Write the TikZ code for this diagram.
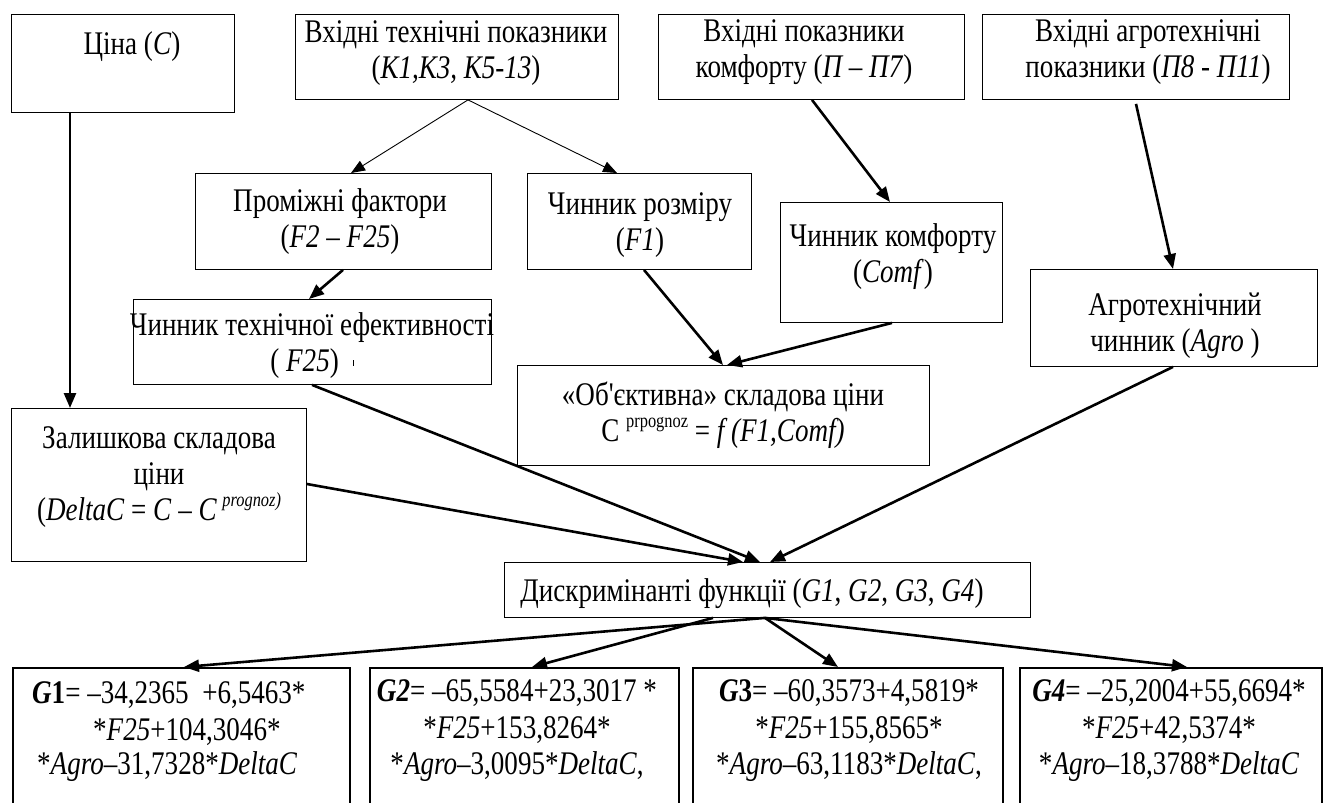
\documentclass[tikz,border=0pt]{standalone}
\usepackage{fontspec}
\setmainfont[FakeStretch=0.82]{Liberation Serif}
\newfontfamily\plainserif[FakeStretch=0.82]{Liberation Serif}
\usetikzlibrary{arrows.meta,calc}
\tikzset{
  box/.style={draw, line width=0.9pt, anchor=north west, inner sep=0pt},
  gbox/.style={draw, line width=2pt, anchor=north west, inner sep=0pt},
  txt/.style={align=center, inner sep=0pt, font=\fontsize{33}{36}\selectfont},
  gtxt/.style={align=center, inner sep=0pt, font=\fontsize{33}{36.5}\selectfont},
  arr/.style={line width=2.6pt, -{Triangle[length=15pt,width=12pt]}},
  thinarr/.style={line width=0.9pt, -{Triangle[length=14pt,width=11pt]}},
}
\newcommand{\supup}[1]{\raisebox{0.42em}{\fontsize{20}{20}\selectfont #1}}
\begin{document}
\begin{tikzpicture}[x=1pt,y=-1pt]
\fill[white] (0,0) rectangle (1323,803);
\clip (0,0) rectangle (1323,803);
% boxes
\node[box, minimum width=223pt, minimum height=98pt] (price) at (11,14) {};
\node[box, minimum width=323pt, minimum height=85pt] (techin) at (295,14) {};
\node[box, minimum width=306pt, minimum height=85pt] (comfin) at (658,14) {};
\node[box, minimum width=307pt, minimum height=85pt] (agroin) at (982,14) {};
\node[box, minimum width=296pt, minimum height=96pt] (inter) at (195,173) {};
\node[box, minimum width=224pt, minimum height=96pt] (size) at (527,173) {};
\node[box, minimum width=222pt, minimum height=120pt] (comf) at (780,202) {};
\node[box, minimum width=358pt, minimum height=85pt] (techeff) at (133,299) {};
\node[box, minimum width=412pt, minimum height=100pt] (obj) at (517,365) {};
\node[box, minimum width=295pt, minimum height=153pt] (resid) at (11,408) {};
\node[box, minimum width=287pt, minimum height=97pt] (agro) at (1030,269) {};
\node[box, minimum width=526pt, minimum height=55pt] (disc) at (504,562) {};
\node[gbox, minimum width=337pt, minimum height=170pt] (g1) at (12,667) {};
\node[gbox, minimum width=309pt, minimum height=170pt] (g2) at (369,667) {};
\node[gbox, minimum width=310pt, minimum height=170pt] (g3) at (692,667) {};
\node[gbox, minimum width=302pt, minimum height=170pt] (g4) at (1019,667) {};
% texts
\node[txt] (priceT) at (132,47) {Ціна (\textit{C})};
\node[txt] (techinT) at (456,53) {Вхідні технічні показники\\(\textit{К1,К3, К5-13})};
\node[txt] (comfinT) at (804,52) {Вхідні показники\\комфорту (\textit{П – П7})};
\node[txt] (agroinT) at (1148,52) {Вхідні агротехнічні\\показники (\textit{П8 - П11})};
\node[txt] (interT) at (340,222) {Проміжні фактори\\(\textit{F2 – F25})};
\node[txt] (sizeT) at (640,225) {Чинник розміру\\(\textit{F1})};
\node[txt] (comfT) at (893,257) {Чинник комфорту\\(\textit{Comf})};
\node[txt] (techeffT) at (312,346) {Чинник технічної ефективності\\( \textit{F25})\hspace{14pt}\rule[6pt]{0.8pt}{6pt}\hspace{-16pt}};
\node[txt] (objT) at (723,415) {«Об{\plainserif '}єктивна» складова ціни\\C \supup{prpognoz} = \textit{f (F1,Comf)}};
\node[txt] (residT) at (159,477) {Залишкова складова\\ціни\\(\textit{DeltaC} = \textit{C} – \textit{C}\,\supup{\itshape prognoz)}};
\node[txt] (agroT) at (1175,326) {Агротехнічний\\чинник (\textit{Agro} )};
\node[txt] (discT) at (752,594) {Дискримінанті функції (\textit{G1}, \textit{G2}, \textit{G3}, \textit{G4})};
\node[txt, anchor=west] (g1a) at (32,695) {\textbf{\textit{G}1}= –34,2365\ \ +6,5463*};
\node[txt, anchor=west] (g1b) at (93,732) {*\textit{F25}+104,3046*};
\node[txt, anchor=west] (g1c) at (37,767) {*\textit{Agro}–31,7328*\textit{DeltaC}};
\node[gtxt] (g2T) at (517,731) {\textbf{\textit{G2}}= –65,5584+23,3017 *\\*\textit{F25}+153,8264*\\*\textit{Agro}–3,0095*\textit{DeltaC},};
\node[gtxt] (g3T) at (849,731) {\textbf{\textit{G}3}= –60,3573+4,5819*\\*\textit{F25}+155,8565*\\*\textit{Agro}–63,1183*\textit{DeltaC},};
\node[gtxt] (g4T) at (1169,731) {\textbf{\textit{G4}}= –25,2004+55,6694*\\*\textit{F25}+42,5374*\\*\textit{Agro}–18,3788*\textit{DeltaC}};
% connectors
\draw[arr] ($(price.south west)+(59,0)$) -- ($(resid.north west)+(59,0)$);
\draw[thinarr] ($(techin.south west)+(173,0)$) -- ($(inter.north west)+(156,0)$);
\draw[thinarr] ($(techin.south west)+(173,0)$) -- ($(size.north west)+(90,0)$);
\draw[arr] ($(comfin.south west)+(154,0)$) -- ($(comf.north west)+(110,0)$);
\draw[arr] ($(agroin.south west)+(154,4)$) -- ($(agro.north west)+(143,0)$);
\draw[arr] ($(inter.south west)+(148,0)$) -- ($(techeff.north west)+(176,0)$);
\draw[arr] ($(size.south west)+(117,0)$) -- ($(obj.north west)+(206,0)$);
\draw[arr] ($(comf.south west)+(112,0)$) -- ($(obj.north west)+(210,0)$);
\draw[arr] ($(techeff.south west)+(179,0)$) -- ($(disc.north west)+(256,0)$);
\draw[arr] ($(resid.north east)+(0,76)$) -- ($(disc.north west)+(239,0)$);
\draw[arr] ($(agro.south west)+(143,0)$) -- ($(disc.north west)+(266,0)$);
\draw[arr] ($(disc.south west)+(261,0)$) -- ($(g1.north west)+(172,0)$);
\draw[arr] ($(disc.south west)+(209,0)$) -- ($(g2.north west)+(163,0)$);
\draw[arr] ($(disc.south west)+(261,0)$) -- ($(g3.north west)+(146,0)$);
\draw[arr] ($(disc.south west)+(261,0)$) -- ($(g4.north west)+(168,0)$);
\end{tikzpicture}
\end{document}
